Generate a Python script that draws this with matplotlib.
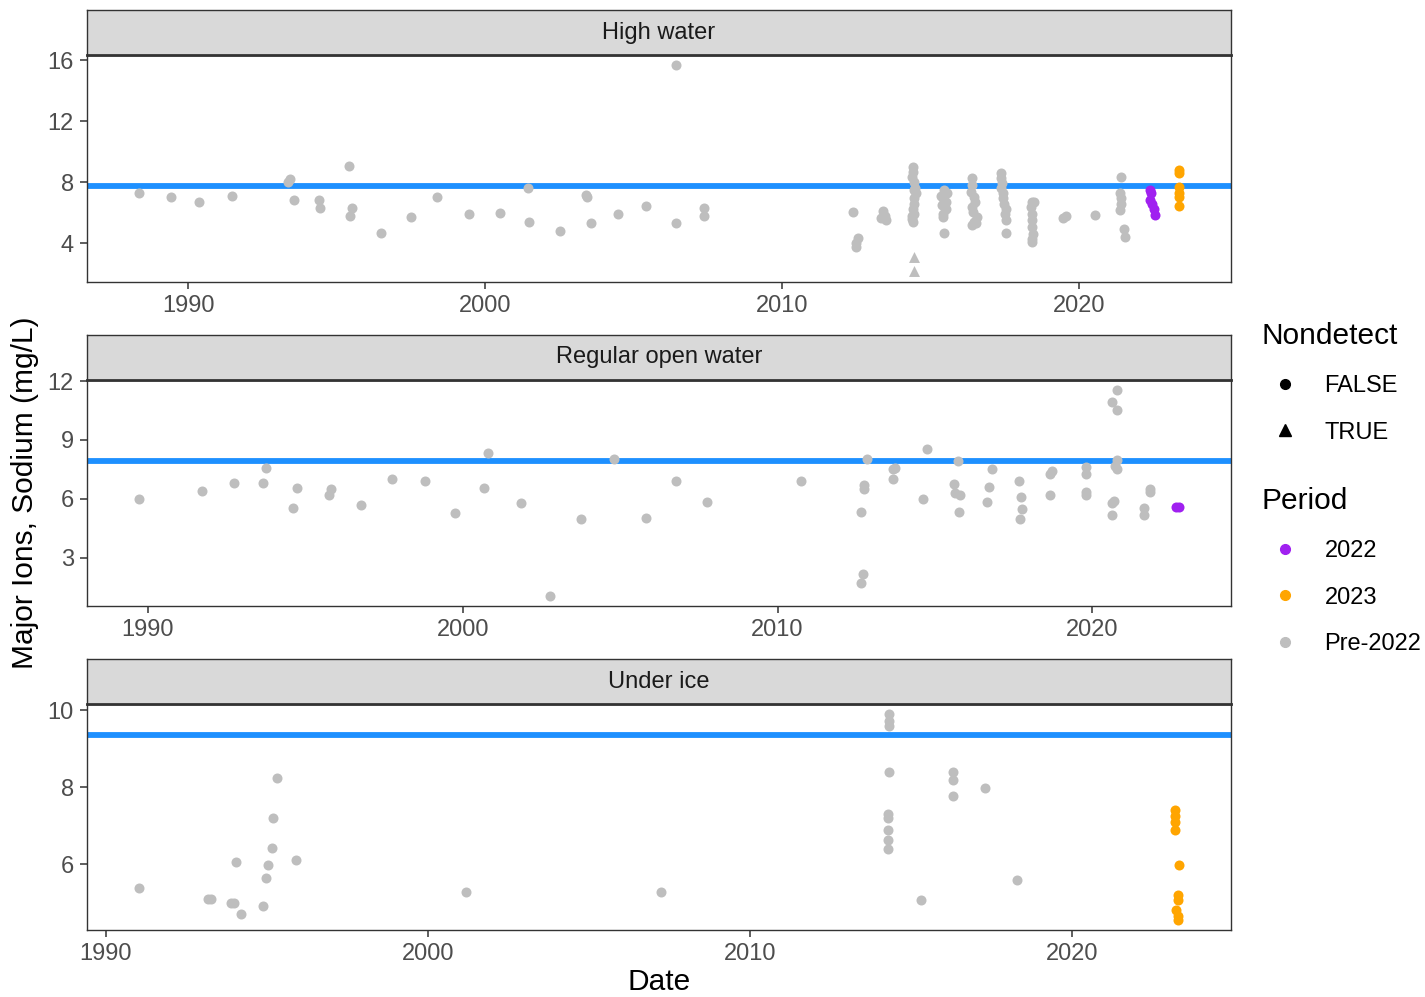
import numpy as np
import matplotlib
matplotlib.use('Agg')
import matplotlib.pyplot as plt
from matplotlib.lines import Line2D

plt.rcParams['font.family'] = ['Liberation Sans', 'DejaVu Sans']

##### Data #####
facets = ['High water', 'Regular open water', 'Under ice']
guideline = [7.75, 7.95, 9.36]
yticks = [[4, 8, 12, 16], [3, 6, 9, 12], [6, 8, 10]]
xticks = [1990, 2000, 2010, 2020]

# High water
hw_pre_x = [1988.34, 1989.42, 1990.37, 1991.47, 1993.36, 1993.41, 1993.56, 1994.41, 1994.45,
            1995.40, 1995.50, 1995.46, 1996.48, 1997.49, 1998.36, 1999.45, 2000.49, 2001.43,
            2001.47, 2002.50, 2003.40, 2003.44, 2003.57, 2004.48, 2005.41, 2006.43, 2006.43,
            2007.38, 2007.38, 2012.39, 2012.55, 2012.50, 2012.47, 2013.40, 2013.31, 2013.50, 2013.45,
            2014.40, 2014.40, 2014.38, 2014.42, 2014.45, 2014.50, 2014.44, 2014.42, 2014.40, 2014.42,
            2014.38, 2014.40, 2014.47, 2014.36,
            2015.45, 2015.55, 2015.40, 2015.50, 2015.38, 2015.52, 2015.42, 2015.40, 2015.45, 2015.35,
            2016.38, 2016.40, 2016.36, 2016.45, 2016.50, 2016.38, 2016.42, 2016.55, 2016.45, 2016.40, 2016.52,
            2017.36, 2017.38, 2017.40, 2017.38, 2017.42, 2017.45, 2017.48, 2017.55, 2017.50, 2017.52, 2017.52,
            2018.40, 2018.48, 2018.38, 2018.40, 2018.42, 2018.40, 2018.44, 2018.42, 2018.42,
            2019.44, 2019.54, 2020.54,
            2021.40, 2021.38, 2021.42, 2021.40, 2021.38, 2021.52, 2021.55]
hw_pre_y = [7.31, 7.02, 6.74, 7.13, 8.01, 8.23, 6.83, 6.85, 6.32,
            9.09, 6.32, 5.79, 4.69, 5.72, 7.04, 5.92, 5.99, 7.60,
            5.40, 4.82, 7.16, 7.05, 5.33, 5.94, 6.43, 15.67, 5.33,
            6.34, 5.77, 6.03, 4.36, 3.79, 4.00, 6.12, 5.66, 5.51, 5.80,
            9.03, 8.70, 8.37, 8.04, 7.49, 7.27, 6.94, 6.61, 6.28, 5.94,
            5.61, 5.40, 7.60, 5.80,
            7.49, 7.27, 6.94, 6.72, 6.50, 6.28, 5.94, 5.73, 4.67, 7.10,
            8.26, 7.82, 7.38, 7.05, 6.72, 6.39, 6.06, 5.73, 5.40, 5.18, 5.30,
            8.59, 8.26, 7.93, 7.60, 7.27, 6.94, 6.61, 6.28, 5.94, 5.51, 4.69,
            6.72, 6.72, 6.39, 5.94, 5.51, 5.07, 4.63, 4.30, 4.07,
            5.68, 5.77, 5.84,
            8.37, 7.27, 6.94, 6.61, 6.17, 4.95, 4.40]
hw_nd_x = [2014.42, 2014.42]
hw_nd_y = [3.13, 2.16]
hw_22_x = [2022.40, 2022.42, 2022.38, 2022.46, 2022.52, 2022.55]
hw_22_y = [7.49, 7.27, 6.83, 6.61, 6.28, 5.84]
hw_23_x = [2023.36, 2023.36, 2023.36, 2023.36, 2023.36, 2023.36]
hw_23_y = [8.81, 8.59, 7.71, 7.27, 7.05, 6.43]

# Regular open water
ow_pre_x = [1989.72, 1991.72, 1992.73, 1993.65, 1993.75, 1994.73, 1994.61, 1995.74, 1995.83,
            1996.76, 1997.75, 1998.81, 1999.76, 2000.80, 2000.69, 2001.84, 2002.78, 2003.76,
            2004.82, 2005.81, 2006.76, 2007.75, 2010.75,
            2012.83, 2012.76, 2012.76, 2012.65, 2012.71, 2012.64,
            2013.66, 2013.73, 2013.66, 2014.74, 2014.63,
            2015.72, 2015.59, 2015.63, 2015.80, 2015.76,
            2016.82, 2016.73, 2016.65,
            2017.66, 2017.73, 2017.77, 2017.70,
            2018.65, 2018.73, 2018.65,
            2019.81, 2019.81, 2019.81, 2019.81,
            2020.61, 2020.79, 2020.79, 2020.79, 2020.72, 2020.79, 2020.69, 2020.61, 2020.61,
            2021.82, 2021.82, 2021.65, 2021.65]
ow_pre_y = [6.00, 6.41, 6.81, 6.81, 7.59, 6.54, 5.56, 6.19, 6.49,
            5.67, 7.00, 6.92, 5.26, 8.32, 6.58, 5.78, 1.07, 4.96,
            8.03, 5.01, 6.92, 5.82, 6.92,
            8.03, 6.71, 6.49, 5.31, 2.19, 1.70,
            7.51, 7.56, 7.00, 8.52, 6.00,
            7.93, 6.75, 6.32, 6.22, 5.31,
            7.51, 6.61, 5.82,
            6.92, 6.12, 5.50, 4.99,
            7.27, 7.42, 6.22,
            7.64, 7.27, 6.37, 6.19,
            10.92, 11.53, 10.51, 7.98, 7.70, 7.51, 5.87, 5.78, 5.19,
            6.49, 6.37, 5.53, 5.18]
ow_22_x = [2022.65, 2022.75]
ow_22_y = [5.61, 5.61]

# Under ice
ui_pre_x = [1991.03, 1993.17, 1993.27, 1993.88, 1993.98, 1994.21, 1994.05, 1994.89, 1994.96,
            1995.04, 1995.16, 1995.20, 1995.32, 1995.92, 2001.18, 2007.23,
            2014.31, 2014.31, 2014.31, 2014.31, 2014.29, 2014.29, 2014.29, 2014.29, 2014.29,
            2015.32, 2016.31, 2016.31, 2016.31, 2017.31, 2018.30]
ui_pre_y = [5.38, 5.09, 5.09, 4.99, 4.99, 4.72, 6.07, 4.91, 5.65,
            5.97, 6.42, 7.21, 8.23, 6.10, 5.27, 5.29,
            9.89, 9.72, 9.59, 8.39, 7.30, 7.20, 6.90, 6.62, 6.40,
            5.07, 8.39, 8.18, 7.77, 7.99, 5.58]
ui_23_x = [2023.20, 2023.20, 2023.20, 2023.20, 2023.32, 2023.30, 2023.30, 2023.22, 2023.30, 2023.30]
ui_23_y = [7.40, 7.26, 7.09, 6.89, 5.99, 5.20, 5.07, 4.82, 4.65, 4.56]

panels = [
    dict(pre=(hw_pre_x, hw_pre_y), nd=(hw_nd_x, hw_nd_y), p22=(hw_22_x, hw_22_y), p23=(hw_23_x, hw_23_y)),
    dict(pre=(ow_pre_x, ow_pre_y), nd=([], []), p22=(ow_22_x, ow_22_y), p23=([], [])),
    dict(pre=(ui_pre_x, ui_pre_y), nd=([], []), p22=([], []), p23=(ui_23_x, ui_23_y)),
]

col_pre, col_22, col_23 = '#BEBEBE', '#A020F0', '#FFA500'
line_col = '#1E90FF'
dark = '#333333'

##### Plot #####
W, H = 1425, 997
fig = plt.figure(figsize=(W / 100, H / 100), dpi=100)

left, right = 87, 1231
panel_px = [(55, 281.7), (380, 606), (704, 930)]
strip_h = 45

for i, (facet, p) in enumerate(zip(facets, panels)):
    top, bot = panel_px[i]
    ax = fig.add_axes([left / W, 1 - bot / H, (right - left) / W, (bot - top) / H])

    # ggplot-style 5% expansion around the data
    allx = p['pre'][0] + p['nd'][0] + p['p22'][0] + p['p23'][0]
    ally = p['pre'][1] + p['nd'][1] + p['p22'][1] + p['p23'][1]
    x0, x1 = min(allx), max(allx)
    y0, y1 = min(ally), max(ally)
    ax.set_xlim(x0 - 0.05 * (x1 - x0), x1 + 0.05 * (x1 - x0))
    ax.set_ylim(y0 - 0.05 * (y1 - y0), y1 + 0.05 * (y1 - y0))

    ax.axhline(guideline[i], color=line_col, lw=4.2, zorder=1)
    ax.scatter(*p['pre'], s=52, color=col_pre, marker='o', lw=0, zorder=2)
    ax.scatter(*p['nd'], s=62, color=col_pre, marker='^', lw=0, zorder=2)
    ax.scatter(*p['p22'], s=52, color=col_22, marker='o', lw=0, zorder=3)
    ax.scatter(*p['p23'], s=52, color=col_23, marker='o', lw=0, zorder=3)

    ax.set_xticks(xticks)
    ax.set_yticks(yticks[i])
    ax.tick_params(length=5, width=1.1, color=dark, labelsize=17, labelcolor='#4D4D4D', pad=4.5)
    for s in ax.spines.values():
        s.set_color(dark)
        s.set_linewidth(1.0)

    # facet strip
    sax = fig.add_axes([left / W, 1 - top / H, (right - left) / W, strip_h / H])
    sax.set_facecolor('#D9D9D9')
    sax.set_xticks([])
    sax.set_yticks([])
    for s in sax.spines.values():
        s.set_color(dark)
        s.set_linewidth(1.0)
    sax.spines['bottom'].set_linewidth(2.0)
    sax.text(0.5, 0.5, facet, ha='center', va='center', fontsize=17, color='#1A1A1A',
             transform=sax.transAxes)

fig.text(25 / W, 1 - 493 / H, 'Major Ions, Sodium (mg/L)', rotation=90, ha='center', va='center',
         fontsize=21.5)
fig.text(659 / W, 1 - 982 / H, 'Date', ha='center', va='center', fontsize=21.5)

# legends
nd_handles = [Line2D([], [], ls='', marker='o', color='black', markersize=7),
              Line2D([], [], ls='', marker='^', color='black', markersize=8)]
fig.legend(nd_handles, ['FALSE', 'TRUE'], title='Nondetect', loc='upper left',
           bbox_to_anchor=(1262 / W, 1 - 322 / H), frameon=False, fontsize=17,
           title_fontsize=21.5, alignment='left', handlelength=1.95, handletextpad=0.7,
           labelspacing=1.05, borderpad=0, borderaxespad=0)
per_handles = [Line2D([], [], ls='', marker='o', color=c, markersize=7) for c in (col_22, col_23, col_pre)]
fig.legend(per_handles, ['2022', '2023', 'Pre-2022'], title='Period', loc='upper left',
           bbox_to_anchor=(1262 / W, 1 - 487 / H), frameon=False, fontsize=17,
           title_fontsize=21.5, alignment='left', handlelength=1.95, handletextpad=0.7,
           labelspacing=1.05, borderpad=0, borderaxespad=0)

fig.savefig('out.png', dpi=100)
